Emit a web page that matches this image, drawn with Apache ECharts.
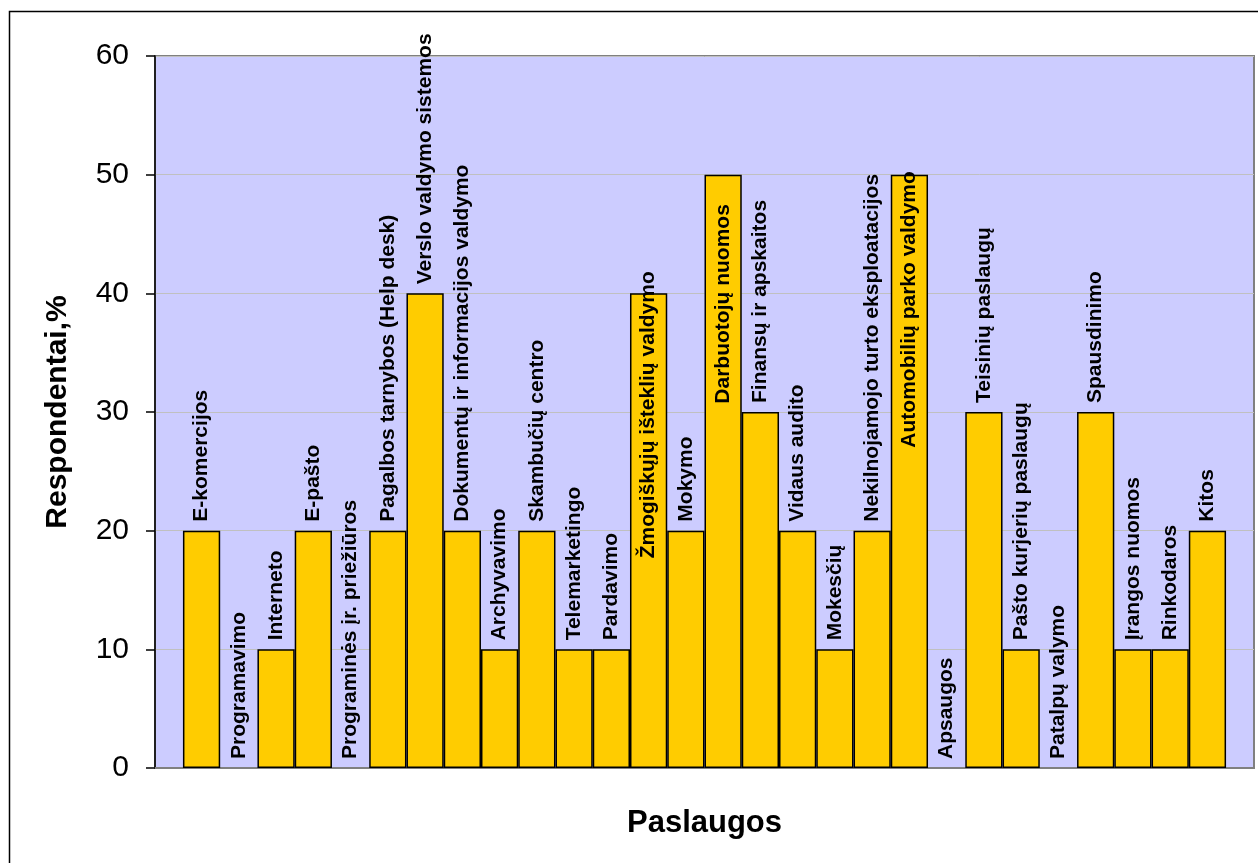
<!DOCTYPE html>
<html>
<head>
<meta charset="utf-8">
<title>Paslaugos</title>
<script src="https://cdn.jsdelivr.net/npm/echarts@6/dist/echarts.min.js"></script>
<style>
  html, body { margin: 0; padding: 0; background: #ffffff; }
  #chart { width: 1258px; height: 863px; }
</style>
</head>
<body>
<div id="chart"></div>
<script>
// Outsourced services and share of respondents (%)
const categories = [
  'E-komercijos', 'Programavimo', 'Interneto', 'E-pašto',
  'Programinės įr. priežiūros', 'Pagalbos tarnybos (Help desk)',
  'Verslo valdymo sistemos', 'Dokumentų ir informacijos valdymo',
  'Archyvavimo', 'Skambučių centro', 'Telemarketingo', 'Pardavimo',
  'Žmogiškųjų išteklių valdymo', 'Mokymo', 'Darbuotojų nuomos',
  'Finansų ir apskaitos', 'Vidaus audito', 'Mokesčių',
  'Nekilnojamojo turto eksploatacijos', 'Automobilių parko valdymo',
  'Apsaugos', 'Teisinių paslaugų', 'Pašto kurjerių paslaugų',
  'Patalpų valymo', 'Spausdinimo', 'Įrangos nuomos', 'Rinkodaros', 'Kitos'
];
const values = [
  20, 0, 10, 20,
  0, 20,
  40, 20,
  10, 20, 10, 10,
  40, 20, 50,
  30, 20, 10,
  20, 50,
  0, 30, 10,
  0, 30, 10, 10, 20
];
const yTicks = [0, 10, 20, 30, 40, 50, 60];

// Long labels on tall bars start inside the bar (distance below the bar top, px)
const labelInside = {
  'Žmogiškųjų išteklių valdymo': 265,
  'Darbuotojų nuomos': 229,
  'Automobilių parko valdymo': 273
};

const FONT = '"Liberation Sans", Arial, sans-serif';

const seriesData = categories.map((name, i) => {
  const item = { name: name, value: [i + 0.5, values[i]] };
  if (labelInside[name] !== undefined) {
    item.label = { position: ['50%', labelInside[name]] };
  }
  if (values[i] === 0) {
    item.itemStyle = { borderWidth: 0 };
  }
  return item;
});

const chart = echarts.init(document.getElementById('chart'), null, { renderer: 'canvas' });

chart.setOption({
  animation: false,
  backgroundColor: '#ffffff',
  textStyle: { fontFamily: FONT },
  graphic: [{
    type: 'rect',
    left: 7, top: 9,
    shape: { width: 1300, height: 900 },
    style: { fill: 'none', stroke: '#000000', lineWidth: 1.5 },
    silent: true,
    z: -10
  }],
  grid: {
    left: 155, top: 56, right: 4, bottom: 95,
    show: true,
    backgroundColor: '#ccccff',
    borderColor: '#808080',
    borderWidth: 2
  },
  xAxis: {
    type: 'value',
    min: -0.75,
    max: categories.length + 0.75,
    name: 'Paslaugos',
    nameLocation: 'middle',
    nameGap: 40,
    nameTextStyle: { fontFamily: FONT, fontSize: 31, fontWeight: 'bold', color: '#000000' },
    axisLine: { show: true, onZero: false, lineStyle: { color: '#808080', width: 2 } },
    axisTick: { show: false },
    axisLabel: { show: false },
    splitLine: { show: false }
  },
  yAxis: {
    type: 'value',
    min: yTicks[0],
    max: yTicks[yTicks.length - 1],
    interval: yTicks[1] - yTicks[0],
    name: 'Respondentai,%',
    nameLocation: 'middle',
    nameRotate: 90,
    nameGap: 82,
    nameTextStyle: { fontFamily: FONT, fontSize: 30, fontWeight: 'bold', color: '#000000' },
    axisLine: { show: true, onZero: false, lineStyle: { color: '#000000', width: 1.5 } },
    axisTick: { show: true, inside: false, length: 9, lineStyle: { color: '#000000', width: 1.5 } },
    axisLabel: { fontFamily: FONT, fontSize: 30, color: '#000000', margin: 26 },
    splitLine: { show: true, lineStyle: { color: '#c0c0c0', width: 1 } }
  },
  series: [{
    type: 'bar',
    data: seriesData,
    barWidth: '100%',
    barCategoryGap: '0%',
    itemStyle: { color: '#ffcc00', borderColor: '#000000', borderWidth: 1.5 },
    label: {
      show: true,
      position: 'top',
      distance: 9,
      rotate: 90,
      align: 'left',
      verticalAlign: 'middle',
      formatter: '{b}',
      fontFamily: FONT,
      fontSize: 21,
      fontWeight: 'bold',
      color: '#000000'
    }
  }]
});
</script>
</body>
</html>
